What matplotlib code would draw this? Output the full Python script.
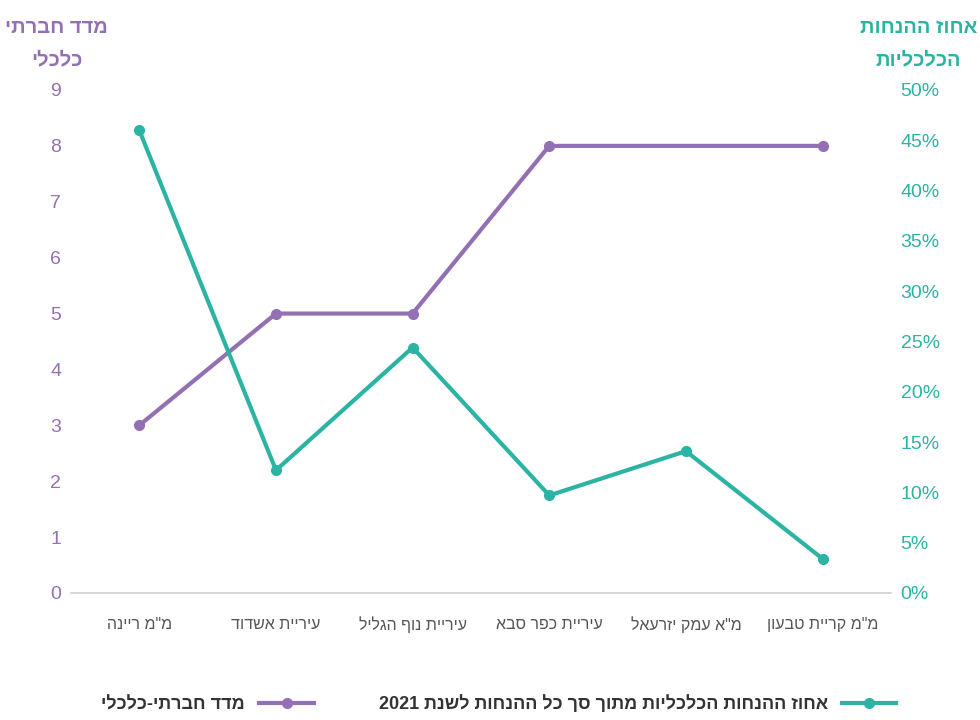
import re
import numpy as np
import matplotlib
matplotlib.use("Agg")
import matplotlib.pyplot as plt
from matplotlib.lines import Line2D

plt.rcParams['font.family'] = ['Liberation Sans', 'DejaVu Sans']


def rtl(s):
    # matplotlib has no bidi: reverse the Hebrew, keep digit runs readable
    out = s[::-1]
    return re.sub(r'\d+', lambda m: m.group(0)[::-1], out)


categories = ['מ"מ ריינה', 'עיריית אשדוד', 'עיריית נוף הגליל',
              'עיריית כפר סבא', 'מ"א עמק יזרעאל', 'מ"מ קריית טבעון']
socio_index = [3, 5, 5, 8, np.nan, 8]
discount_pct = [46.0, 12.2, 24.4, 9.7, 14.1, 3.4]

left_ticks = list(range(0, 10))
right_ticks = list(range(0, 55, 5))

purple = '#9370b3'
teal = '#2bb3a3'

fig = plt.figure(figsize=(9.8, 7.2), dpi=100)
ax = fig.add_axes([0.0724, 0.1764, 0.8367, 0.6986])
ax2 = ax.twinx()

x = np.arange(len(categories))
s = np.array(socio_index, dtype=float)
ok = ~np.isnan(s)
ax.plot(x[ok], s[ok], color=purple, lw=3, marker='o', ms=7, zorder=3)
ax2.plot(x, discount_pct, color=teal, lw=3, marker='o', ms=7, zorder=3)

ax.set_xlim(-0.5, len(categories) - 0.5)
ax.set_ylim(0, 9)
ax2.set_ylim(0, 50)
ax.set_yticks(left_ticks)
ax.set_yticklabels([str(t) for t in left_ticks])
ax2.set_yticks(right_ticks)
ax2.set_yticklabels([f'{t}%' for t in right_ticks])
ax.set_xticks(x)
ax.set_xticklabels([rtl(c) for c in categories])

for a in (ax, ax2):
    for sp in a.spines.values():
        sp.set_visible(False)
ax.spines['bottom'].set_visible(True)
ax.spines['bottom'].set_color('#d0d0d0')
ax.spines['bottom'].set_linewidth(1.2)

ax.tick_params(axis='y', length=0, pad=7, labelsize=14, labelcolor=purple)
ax2.tick_params(axis='y', length=0, pad=7, labelsize=14, labelcolor=teal)
ax.tick_params(axis='x', length=0, pad=17, labelsize=11.5, labelcolor='#555555')

fig.text(0.058, 0.975, rtl('מדד חברתי'), color=purple, fontsize=14.5,
         fontweight='bold', ha='center', va='top')
fig.text(0.058, 0.93, rtl('כלכלי'), color=purple, fontsize=14.5,
         fontweight='bold', ha='center', va='top')
fig.text(0.937, 0.975, rtl('אחוז ההנחות'), color=teal, fontsize=14.5,
         fontweight='bold', ha='center', va='top')
fig.text(0.937, 0.93, rtl('הכלכליות'), color=teal, fontsize=14.5,
         fontweight='bold', ha='center', va='top')

handles = [Line2D([], [], color=purple, lw=3, marker='o', ms=7),
           Line2D([], [], color=teal, lw=3, marker='o', ms=7)]
labels = [rtl('מדד חברתי-כלכלי'),
          rtl('אחוז ההנחות הכלכליות מתוך סך כל ההנחות לשנת 2021')]
leg = fig.legend(handles, labels, loc='center', bbox_to_anchor=(0.509, 0.022),
                 ncol=2, frameon=False, markerfirst=False, handlelength=3.0,
                 columnspacing=3.6, handletextpad=0.8,
                 prop={'size': 13, 'weight': 'bold'})
for t in leg.get_texts():
    t.set_color('#333333')

fig.savefig('out.png', dpi=100)
